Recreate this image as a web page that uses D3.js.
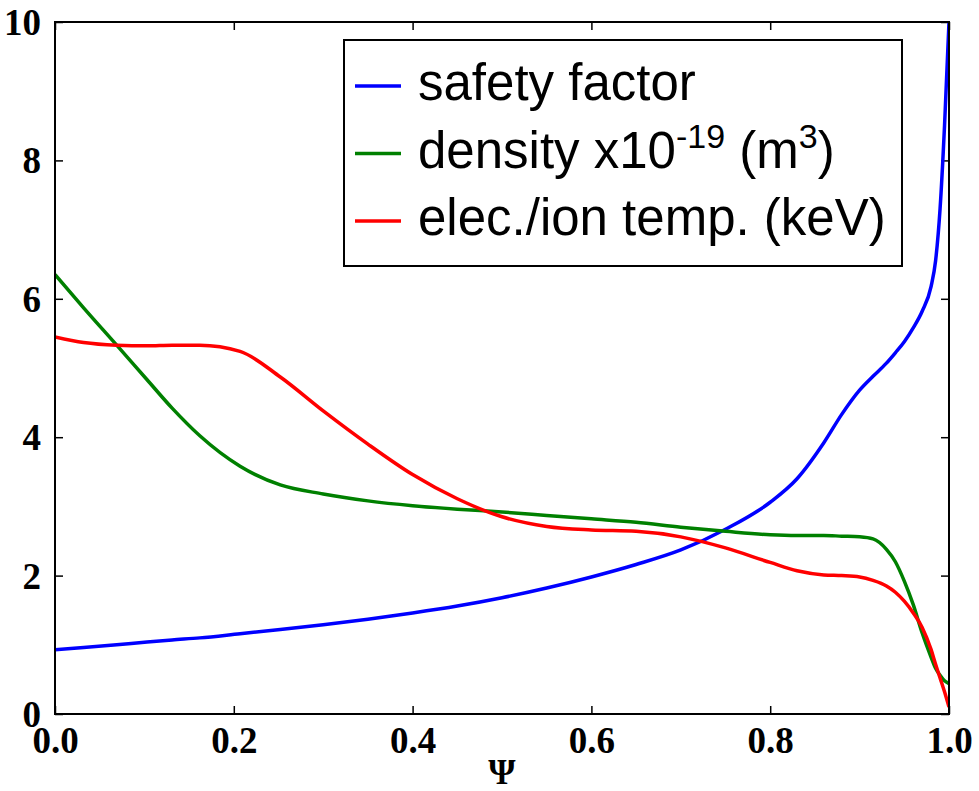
<!DOCTYPE html>
<html>
<head>
<meta charset="utf-8">
<script src="https://cdn.jsdelivr.net/npm/d3@7"></script>
<style>
    body { margin: 0; background: #fff; }
</style>
</head>
<body>
<svg id="chart"></svg>
<script>
// normalized flux coordinate
const PSI = [0, 0.032, 0.069, 0.103, 0.131, 0.162, 0.207, 0.252, 0.3, 0.35,
    0.4, 0.45, 0.5, 0.55, 0.6, 0.65, 0.7, 0.75, 0.8, 0.83,
    0.86, 0.88, 0.9, 0.915, 0.93, 0.94, 0.95, 0.96, 0.97, 0.98,
    0.985, 0.99, 0.995, 1.0];

const SAFETY = [0.93, 0.96, 1.00, 1.04, 1.07, 1.10, 1.16, 1.22, 1.29, 1.37,
    1.46, 1.56, 1.68, 1.82, 1.98, 2.16, 2.37, 2.67, 3.06, 3.40,
    3.92, 4.33, 4.68, 4.88, 5.07, 5.22, 5.38, 5.58, 5.82, 6.18,
    6.55, 7.3, 8.5, 10.0];

const DENSITY = [6.35, 5.87, 5.33, 4.83, 4.42, 4.02, 3.58, 3.31, 3.18, 3.08,
    3.01, 2.96, 2.92, 2.87, 2.82, 2.77, 2.70, 2.64, 2.59, 2.58,
    2.58, 2.57, 2.56, 2.53, 2.38, 2.20, 1.92, 1.58, 1.17, 0.82,
    0.66, 0.56, 0.48, 0.44];

const TEMP = [5.45, 5.37, 5.33, 5.32, 5.33, 5.33, 5.24, 4.87, 4.38, 3.90,
    3.46, 3.11, 2.85, 2.71, 2.66, 2.64, 2.56, 2.40, 2.19, 2.07,
    2.01, 2.00, 1.98, 1.93, 1.85, 1.76, 1.63, 1.46, 1.25, 0.93,
    0.72, 0.52, 0.32, 0.10];

const XTICKS = [0, 0.2, 0.4, 0.6, 0.8, 1.0];
const YTICKS = [0, 2, 4, 6, 8, 10];

const WIDTH = 979;
const HEIGHT = 791;
const MARGIN = { top: 22, right: 30, bottom: 77, left: 55 };
const W = WIDTH - MARGIN.left - MARGIN.right;
const H = HEIGHT - MARGIN.top - MARGIN.bottom;

var svg = d3.select("#chart")
    .attr("width", WIDTH)
    .attr("height", HEIGHT);

var g = svg.append("g")
    .attr("transform", "translate(" + MARGIN.left + "," + MARGIN.top + ")");

var x = d3.scaleLinear().domain([0, 1]).range([0, W]);
var y = d3.scaleLinear().domain([0, 10]).range([H, 0]);

var tickFont = "'Liberation Serif', 'DejaVu Serif', serif";

// axes, ticks pointing inward like matplotlib classic
function styleAxis(sel) {
    sel.select(".domain").remove();
    sel.selectAll(".tick line").attr("stroke", "#000").attr("stroke-width", 1.5);
    sel.selectAll(".tick text")
        .attr("font-family", tickFont)
        .attr("font-weight", "bold")
        .attr("font-size", 37)
        .attr("fill", "#000");
}

g.append("g")
    .attr("transform", "translate(0," + H + ")")
    .call(d3.axisBottom(x).tickValues(XTICKS).tickFormat(d3.format(".1f"))
        .tickSizeInner(-8).tickPadding(13))
    .call(styleAxis);

g.append("g")
    .call(d3.axisTop(x).tickValues(XTICKS).tickFormat("").tickSizeInner(-8))
    .call(styleAxis);

g.append("g")
    .call(d3.axisLeft(y).tickValues(YTICKS).tickFormat(d3.format("d"))
        .tickSizeInner(-8).tickPadding(14))
    .call(styleAxis)
    .selectAll(".tick text").attr("dy", "0.34em");

g.append("g")
    .attr("transform", "translate(" + W + ",0)")
    .call(d3.axisRight(y).tickValues(YTICKS).tickFormat("").tickSizeInner(-8))
    .call(styleAxis);

// curves
var series = [
    { name: "safety", values: SAFETY, color: "#0000ff" },
    { name: "density", values: DENSITY, color: "#008000" },
    { name: "temp", values: TEMP, color: "#ff0000" }
];

var line = d3.line()
    .x(function(d) { return x(d[0]); })
    .y(function(d) { return y(d[1]); })
    .curve(d3.curveMonotoneX);

g.append("defs").append("clipPath").attr("id", "clip")
    .append("rect").attr("width", W).attr("height", H);

g.selectAll(".curve")
    .data(series)
    .enter()
    .append("path")
    .attr("class", "curve")
    .attr("clip-path", "url(#clip)")
    .attr("fill", "none")
    .attr("stroke", function(d) { return d.color; })
    .attr("stroke-width", 3.5)
    .attr("stroke-linejoin", "round")
    .attr("d", function(d) {
        return line(PSI.map(function(p, i) { return [p, d.values[i]]; }));
    });

// frame
g.append("rect")
    .attr("width", W)
    .attr("height", H)
    .attr("fill", "none")
    .attr("stroke", "#000")
    .attr("stroke-width", 2);

// x label
svg.append("text")
    .attr("x", MARGIN.left + W / 2)
    .attr("y", 784)
    .attr("text-anchor", "middle")
    .attr("font-family", tickFont)
    .attr("font-weight", "bold")
    .attr("font-size", 35)
    .text("\u03a8");

// legend
var legend = svg.append("g").attr("transform", "translate(344,40)");

legend.append("rect")
    .attr("width", 558)
    .attr("height", 226)
    .attr("fill", "#fff")
    .attr("stroke", "#000")
    .attr("stroke-width", 2);

var rows = legend.selectAll(".row")
    .data(series)
    .enter()
    .append("g")
    .attr("class", "row")
    .attr("transform", function(d, i) { return "translate(0," + (46 + i * 67.5) + ")"; });

rows.append("line")
    .attr("x1", 11).attr("x2", 57)
    .attr("stroke", function(d) { return d.color; })
    .attr("stroke-width", 3.5);

var labels = rows.append("text")
    .attr("x", 74)
    .attr("y", 14)
    .attr("font-family", "'Liberation Sans', Arial, sans-serif")
    .attr("font-size", 51)
    .attr("fill", "#000");

labels.each(function(d) {
    var t = d3.select(this);
    if (d.name == "safety") {
        t.text("safety factor");
    } else if (d.name == "density") {
        t.append("tspan").text("density x10");
        t.append("tspan").attr("font-size", 34).attr("dy", -20).text("-19");
        t.append("tspan").attr("dy", 20).text(" (m");
        t.append("tspan").attr("font-size", 34).attr("dy", -20).text("3");
        t.append("tspan").attr("dy", 20).text(")");
    } else {
        t.text("elec./ion temp. (keV)");
    }
});
</script>
</body>
</html>
